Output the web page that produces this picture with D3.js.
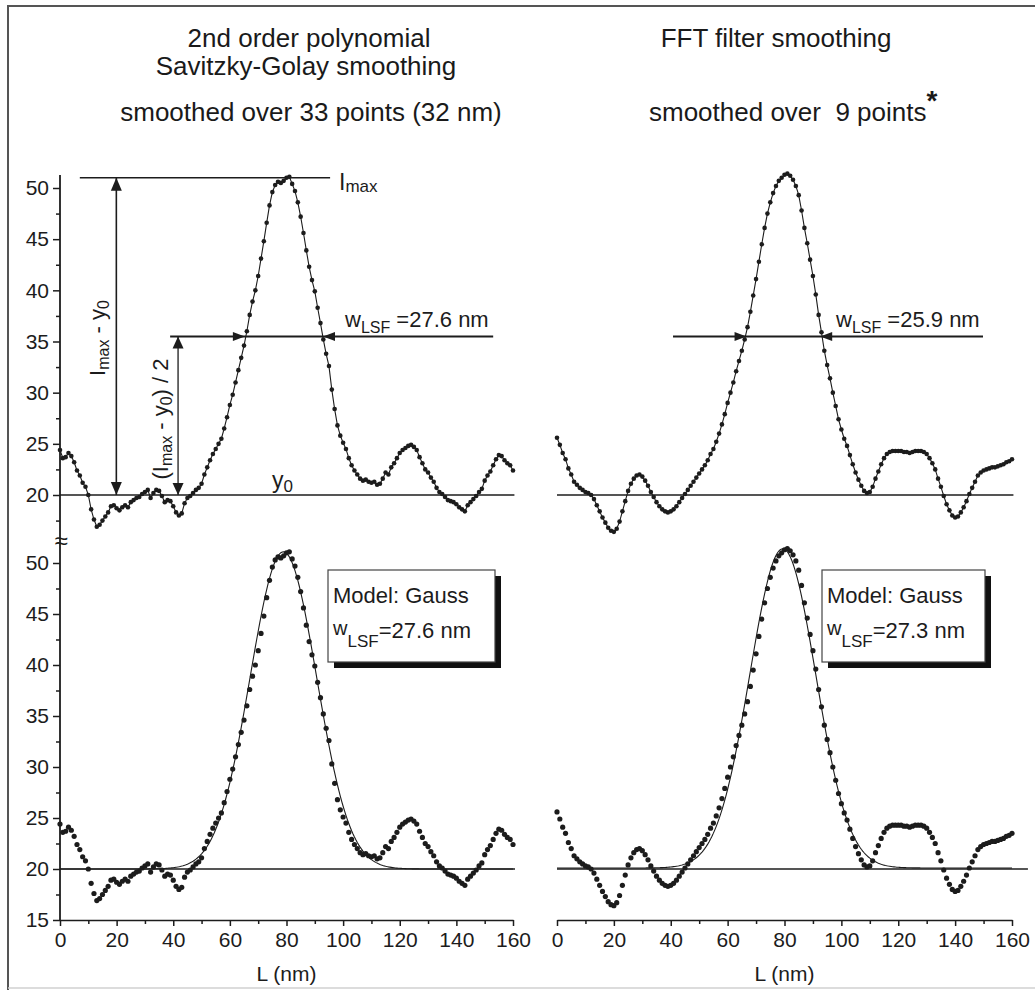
<!DOCTYPE html>
<html>
<head>
<meta charset="utf-8">
<script src="https://cdn.jsdelivr.net/npm/d3@7"></script>
<style>
  body { margin: 0; background: #fff; }
  svg { display: block; font-family: "Liberation Sans", Arial, sans-serif; }
</style>
</head>
<body>
<svg id="fig" width="1035" height="990"></svg>
<script>
// Line-spread profiles, sampled every 1 nm from 0 to 160 nm
const positions = d3.range(0, 161);

// 2nd order polynomial Savitzky-Golay smoothed profile
const sgValues = [
  24.4, 23.6, 23.7, 24.1, 23.8, 23.2, 22.4, 21.9, 21.2, 20.8,
  20.0, 18.6, 17.6, 16.9, 17.1, 17.5, 17.9, 18.3, 18.9, 19.0,
  18.7, 18.5, 18.8, 19.0, 18.8, 19.3, 19.5, 19.7, 19.8, 20.1,
  20.3, 20.5, 19.7, 20.2, 20.5, 20.4, 19.9, 19.3, 19.5, 19.4,
  18.9, 18.3, 18.0, 18.2, 19.2, 19.7, 19.9, 20.2, 20.5, 20.7,
  21.1, 22.0, 22.7, 23.4, 24.0, 24.5, 25.0, 25.5, 26.5, 27.6,
  28.8, 29.8, 31.0, 32.2, 33.4, 34.6, 36.0, 37.6, 38.9, 40.0,
  41.4, 43.1, 44.8, 46.6, 48.3, 49.6, 50.3, 50.6, 50.5, 50.7,
  51.0, 51.1, 50.4, 49.7, 48.6, 47.2, 45.6, 43.9, 42.3, 41.0,
  39.9, 38.3, 36.8, 35.2, 33.8, 32.6, 30.3, 28.4, 26.8, 25.8,
  25.1, 24.5, 23.6, 22.9, 22.4, 22.0, 21.6, 21.4, 21.5, 21.3,
  21.2, 21.3, 21.0, 21.1, 21.6, 22.2, 22.0, 22.7, 23.1, 23.6,
  24.1, 24.4, 24.6, 24.8, 24.9, 24.7, 24.4, 23.7, 23.1, 22.5,
  22.2, 21.7, 21.3, 20.7, 20.3, 20.1, 19.8, 19.5, 19.4, 19.3,
  19.1, 18.8, 18.6, 18.4, 19.0, 19.3, 19.6, 19.9, 20.3, 20.6,
  21.4, 21.9, 22.3, 22.9, 23.5, 23.9, 23.8, 23.4, 23.1, 22.9,
  22.4
];

// FFT filter smoothed profile
const fftValues = [
  25.6, 24.9, 24.1, 23.5, 22.6, 22.0, 21.3, 21.0, 20.7, 20.5,
  20.3, 20.2, 20.0, 19.6, 19.0, 18.4, 17.8, 17.3, 16.8, 16.5,
  16.4, 16.7, 17.4, 18.4, 19.4, 20.4, 21.1, 21.6, 21.9, 22.0,
  21.8, 21.4, 20.9, 20.3, 19.8, 19.3, 18.9, 18.6, 18.4, 18.3,
  18.4, 18.6, 18.9, 19.3, 19.7, 20.1, 20.5, 20.9, 21.3, 21.7,
  22.1, 22.5, 22.9, 23.4, 24.0, 24.5, 25.2, 26.0, 26.9, 27.9,
  29.0, 30.0, 31.0, 32.1, 33.1, 34.1, 35.2, 36.4, 37.9, 39.5,
  41.1, 42.8, 44.5, 46.1, 47.5, 48.6, 49.5, 50.2, 50.7, 51.0,
  51.3, 51.4, 51.2, 50.8, 50.2, 49.3, 47.8, 46.1, 44.6, 43.0,
  41.4, 39.6, 37.6, 35.9, 34.1, 32.7, 31.4, 30.0, 28.7, 27.4,
  26.4, 25.5, 24.8, 23.9, 23.0, 22.2, 21.5, 20.9, 20.4, 20.2,
  20.3, 20.8, 21.6, 22.3, 23.0, 23.6, 24.0, 24.2, 24.3, 24.3,
  24.3, 24.3, 24.2, 24.2, 24.1, 24.2, 24.3, 24.3, 24.3, 24.2,
  24.0, 23.6, 23.1, 22.5, 21.6, 20.8, 19.9, 19.1, 18.5, 18.0,
  17.8, 17.9, 18.3, 18.8, 19.4, 20.1, 20.7, 21.3, 21.9, 22.2,
  22.4, 22.5, 22.6, 22.7, 22.7, 22.8, 22.9, 23.0, 23.2, 23.3,
  23.5
];

// Gauss model fits (left: Savitzky-Golay, right: FFT)
const gaussBaselines = [20.0, 20.1];
const gaussAmplitudes = [31.1, 31.3];
const gaussCenters = [78.9, 79.4];
const gaussFwhm = [27.6, 27.3];

// Read-off annotations of the upper panels
const imaxLevel = 51;
const y0Level = 20;
const halfLevel = 35.5;
const halfCenters = [79.1, 79.6];
const halfWidths = [27.6, 25.9];

// Tick labels
const xTicks = [0, 20, 40, 60, 80, 100, 120, 140, 160];
const xMinorTicks = [10, 30, 50, 70, 90, 110, 130, 150];
const yTicksTop = [20, 25, 30, 35, 40, 45, 50];
const yMinorTop = [17.5, 22.5, 27.5, 32.5, 37.5, 42.5, 47.5];
const yTicksBottom = [15, 20, 25, 30, 35, 40, 45, 50];
const yMinorBottom = [17.5, 22.5, 27.5, 32.5, 37.5, 42.5, 47.5];

const ink = "#1c1c1c";
const svg = d3.select("#fig");

// outer frame
svg.append("path").attr("d", "M8,990V6H1035").attr("fill", "none")
  .attr("stroke", "#555").attr("stroke-width", 2);
svg.append("line").attr("x1", 8).attr("x2", 1035).attr("y1", 988).attr("y2", 988)
  .attr("stroke", "#d0d0d0").attr("stroke-width", 1.5);

// scales
const xL = d3.scaleLinear([0, 160], [60, 513]);
const xR = d3.scaleLinear([0, 160], [557, 1012]);
const yT = d3.scaleLinear([20, 50], [495, 188]);
const yB = d3.scaleLinear([15, 50], [920, 563]);

// titles
const title = (x, y, txt, anchor = "middle") =>
  svg.append("text").attr("x", x).attr("y", y).attr("text-anchor", anchor)
    .attr("font-size", 26).attr("fill", "#1a1a1a").text(txt);
title(309, 47, "2nd order polynomial");
title(306, 75, "Savitzky-Golay smoothing");
title(311, 121, "smoothed over 33 points (32 nm)");
title(776, 47, "FFT filter smoothing");
const t2 = title(649, 121, "smoothed over  9 points", "start");
t2.attr("xml:space", "preserve").style("white-space", "pre");
t2.append("tspan").attr("dy", -11).attr("font-size", 28).attr("font-weight", "bold").text("*");

// ---------- axes ----------
function styleAxis(g) {
  g.attr("font-family", null).attr("font-size", null);
  g.selectAll("text").attr("font-size", 21).attr("fill", ink);
  g.selectAll("line,path").attr("stroke", ink).attr("stroke-width", 1.5);
}
// left y axis, spanning both panels with a break
svg.append("line").attr("x1", 60).attr("x2", 60).attr("y1", 175).attr("y2", 920)
  .attr("stroke", ink).attr("stroke-width", 1.8);
svg.append("g").attr("transform", "translate(60,0)")
  .call(d3.axisLeft(yT).tickValues(yTicksTop).tickSize(7).tickPadding(4))
  .call(g => g.select(".domain").remove()).call(styleAxis);
svg.append("g").attr("transform", "translate(60,0)")
  .call(d3.axisLeft(yT).tickValues(yMinorTop).tickSize(4).tickFormat(""))
  .call(g => g.select(".domain").remove()).call(styleAxis);
svg.append("g").attr("transform", "translate(60,0)")
  .call(d3.axisLeft(yB).tickValues(yTicksBottom).tickSize(7).tickPadding(4))
  .call(g => g.select(".domain").remove()).call(styleAxis);
svg.append("g").attr("transform", "translate(60,0)")
  .call(d3.axisLeft(yB).tickValues(yMinorBottom).tickSize(4).tickFormat(""))
  .call(g => g.select(".domain").remove()).call(styleAxis);
svg.append("text").attr("x", 61).attr("y", 549).attr("text-anchor", "middle")
  .attr("font-size", 24).attr("fill", ink).text("≈");

// bottom x axes
[xL, xR].forEach(x => {
  svg.append("g").attr("transform", "translate(0,920)")
    .call(d3.axisBottom(x).tickValues(xTicks).tickSize(6).tickSizeOuter(0).tickPadding(6))
    .call(styleAxis);
  svg.append("g").attr("transform", "translate(0,920)")
    .call(d3.axisBottom(x).tickValues(xMinorTicks).tickSize(4).tickFormat(""))
    .call(g => g.select(".domain").remove()).call(styleAxis);
  svg.append("text").attr("x", x(80)).attr("y", 981).attr("text-anchor", "middle")
    .attr("font-size", 21).attr("fill", ink).text("L (nm)");
});

// ---------- helpers ----------
function hline(x, y, v, a, b, w = 1.5) {
  svg.append("line").attr("x1", x(a)).attr("x2", x(b)).attr("y1", y(v)).attr("y2", y(v))
    .attr("stroke", ink).attr("stroke-width", w);
}
// filled arrow head with its tip at (px, py)
function head(px, py, dir, len, hw) {
  const d = {
    up:    [[px, py], [px - hw, py + len], [px + hw, py + len]],
    down:  [[px, py], [px - hw, py - len], [px + hw, py - len]],
    left:  [[px, py], [px + len, py - hw], [px + len, py + hw]],
    right: [[px, py], [px - len, py - hw], [px - len, py + hw]]
  }[dir];
  svg.append("path").attr("d", "M" + d.join("L") + "Z").attr("fill", ink);
}
function sub(t, main, small, size, subSize, dy) {
  t.append("tspan").attr("font-size", size).text(main);
  t.append("tspan").attr("font-size", subSize).attr("dy", dy).text(small);
}

const panels = [
  { x: xL, values: sgValues, k: 0 },
  { x: xR, values: fftValues, k: 1 }
];

// ---------- upper panels: smoothed profiles ----------
panels.forEach(p => {
  const pts = positions.map((d, i) => [d, p.values[i]]);
  // baseline y0
  hline(p.x, yT, y0Level, 0, 160.5);
  svg.append("path").datum(pts)
    .attr("d", d3.line().x(d => p.x(d[0])).y(d => yT(d[1])))
    .attr("fill", "none").attr("stroke", ink).attr("stroke-width", 1.1);
  svg.append("g").selectAll("circle").data(pts).join("circle")
    .attr("cx", d => p.x(d[0])).attr("cy", d => yT(d[1])).attr("r", 2.3).attr("fill", ink);

  // half maximum line with arrows marking the width
  const c = halfCenters[p.k], w = halfWidths[p.k];
  const span = p.k === 0 ? [38.9, 153] : [40.8, 149.8];
  hline(p.x, yT, halfLevel, span[0], span[1], 2);
  head(p.x(c - w / 2), yT(halfLevel), "right", 12, 4.5);
  head(p.x(c + w / 2), yT(halfLevel), "left", 12, 4.5);
  const lab = svg.append("text").attr("x", p.k === 0 ? 345 : 836).attr("y", 327).attr("fill", ink);
  lab.append("tspan").attr("font-size", 22).text("w");
  lab.append("tspan").attr("font-size", 16).attr("dy", 6).text("LSF");
  lab.append("tspan").attr("font-size", 22).attr("dy", -6).text(" =" + w.toFixed(1) + " nm");
});

// Imax / y0 construction in the left upper panel
hline(xL, yT, imaxLevel, 7, 95.4);
{
  const t = svg.append("text").attr("x", 339).attr("y", 190).attr("fill", ink);
  sub(t, "I", "max", 23, 17, 2);
  const y0t = svg.append("text").attr("x", 272).attr("y", 488).attr("fill", ink);
  sub(y0t, "y", "0", 23, 17, 4);

  const ax = xL(19.9);
  svg.append("line").attr("x1", ax).attr("x2", ax).attr("y1", yT(imaxLevel)).attr("y2", yT(y0Level))
    .attr("stroke", ink).attr("stroke-width", 1.6);
  head(ax, yT(imaxLevel), "up", 13, 5.5);
  head(ax, yT(y0Level), "down", 13, 5.5);
  const r1 = svg.append("text").attr("transform", `translate(${ax - 11},338) rotate(-90)`)
    .attr("text-anchor", "middle").attr("fill", ink);
  sub(r1, "I", "max", 22, 16, 4);
  r1.append("tspan").attr("font-size", 22).attr("dy", -4).text(" - y");
  r1.append("tspan").attr("font-size", 16).attr("dy", 4).text("0");

  const bx = xL(41.7);
  svg.append("line").attr("x1", bx).attr("x2", bx).attr("y1", yT(halfLevel)).attr("y2", yT(y0Level))
    .attr("stroke", ink).attr("stroke-width", 1.3);
  head(bx, yT(halfLevel), "up", 12, 5.5);
  head(bx, yT(y0Level), "down", 12, 5.5);
  const r2 = svg.append("text").attr("transform", `translate(${bx - 10},419) rotate(-90)`)
    .attr("text-anchor", "middle").attr("fill", ink);
  r2.append("tspan").attr("font-size", 22).text("(I");
  r2.append("tspan").attr("font-size", 16).attr("dy", 4).text("max");
  r2.append("tspan").attr("font-size", 22).attr("dy", -4).text(" - y");
  r2.append("tspan").attr("font-size", 16).attr("dy", 4).text("0");
  r2.append("tspan").attr("font-size", 22).attr("dy", -4).text(") / 2");
}

// ---------- lower panels: Gauss model fits ----------
const fitX = d3.range(0, 160.25, 0.5);
panels.forEach(p => {
  const k = p.k;
  const sigma = gaussFwhm[k] / (2 * Math.sqrt(2 * Math.log(2)));
  const model = fitX.map(x => [x, gaussBaselines[k] +
    gaussAmplitudes[k] * Math.exp(-((x - gaussCenters[k]) ** 2) / (2 * sigma * sigma))]);
  hline(p.x, yB, y0Level, 0, k === 0 ? 160.7 : 165.6);
  svg.append("path").datum(model)
    .attr("d", d3.line().x(d => p.x(d[0])).y(d => yB(d[1])))
    .attr("fill", "none").attr("stroke", ink).attr("stroke-width", 1.1);
  svg.append("g").selectAll("circle").data(positions.map((d, i) => [d, p.values[i]])).join("circle")
    .attr("cx", d => p.x(d[0])).attr("cy", d => yB(d[1])).attr("r", 2.6).attr("fill", ink);

  // model box with drop shadow
  const bx = k === 0 ? 328 : 822, bw = k === 0 ? 167 : 163;
  svg.append("rect").attr("x", bx + 6).attr("y", 576).attr("width", bw).attr("height", 92).attr("fill", "#111");
  svg.append("rect").attr("x", bx).attr("y", 570).attr("width", bw).attr("height", 92)
    .attr("fill", "#fff").attr("stroke", "#444").attr("stroke-width", 1.2);
  svg.append("text").attr("x", bx + 5).attr("y", 603).attr("font-size", 22).attr("fill", ink)
    .text("Model: Gauss");
  const t = svg.append("text").attr("x", bx + 5).attr("y", 635).attr("fill", ink);
  t.append("tspan").attr("font-size", 20).text("w");
  t.append("tspan").attr("font-size", 17).attr("dy", 12).text("LSF");
  t.append("tspan").attr("font-size", 22).attr("dy", -9).text("=" + gaussFwhm[k].toFixed(1) + " nm");
});
</script>
</body>
</html>
